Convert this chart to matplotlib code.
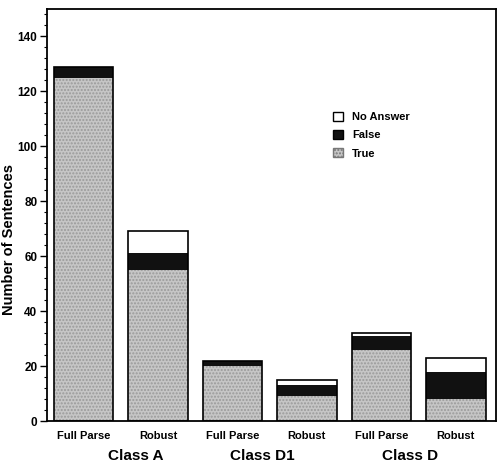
import matplotlib
matplotlib.use("Agg")
import matplotlib.pyplot as plt
import numpy as np
from matplotlib.patches import Patch
from matplotlib.ticker import MultipleLocator

plt.rcParams['font.family'] = ['Liberation Sans', 'DejaVu Sans']
plt.rcParams['font.weight'] = 'bold'

methods = ["Full Parse", "Robust", "Full Parse", "Robust", "Full Parse", "Robust"]
classes = ["Class A", "Class D1", "Class D"]
true_vals = [125, 55, 20, 9, 26, 8]
false_vals = [4, 6, 2, 4, 5, 10]
none_vals = [0, 8, 0, 2, 1, 5]

fig = plt.figure(figsize=(5.0, 4.66), dpi=100)
ax = fig.add_axes([47/500, 1-421/466, 449/500, 412/466])

x = np.arange(len(methods))
w = 0.80
t = np.array(true_vals)
f = np.array(false_vals)
n = np.array(none_vals)
ax.bar(x, t, w, color='#c6c6c6', linewidth=0, hatch='.....', edgecolor='#9a9a9a')
ax.bar(x, f, w, bottom=t, color='#111111', linewidth=0)
ax.bar(x, n, w, bottom=t + f, color='white', linewidth=0)
ax.bar(x, t + f + n, w, fill=False, edgecolor='black', linewidth=1.2)

ax.set_xlim(-0.49, 5.54)
ax.set_ylim(0, 150)
ax.set_yticks([0, 20, 40, 60, 80, 100, 120, 140])
ax.yaxis.set_minor_locator(MultipleLocator(4))
ax.tick_params(axis='y', which='major', length=5, width=1, labelsize=8.5, direction='out', pad=2)
ax.tick_params(axis='y', which='minor', length=2.5, width=0.8, direction='out')
ax.set_xticks(x)
ax.set_xticklabels(methods, fontsize=8, fontweight='bold')
ax.tick_params(axis='x', length=0, pad=7)
for lab in ax.get_yticklabels():
    lab.set_fontweight('bold')
for s in ax.spines.values():
    s.set_linewidth(1.3)

ax.set_ylabel("Number of Sentences", fontsize=10.5, fontweight='bold')
ax.yaxis.set_label_coords(-0.068, 0.44)

class_pos = [0.70, 2.40, 4.38]
for cx, cl in zip(class_pos, classes):
    ax.text(cx, -0.085, cl, transform=ax.get_xaxis_transform(), ha='center', va='center',
            fontsize=11, fontweight='bold')

handles = [Patch(facecolor='white', edgecolor='black', label='No Answer'),
           Patch(facecolor='#111111', edgecolor='black', label='False'),
           Patch(facecolor='#c6c6c6', edgecolor='#777777', hatch='.....', label='True')]
ax.legend(handles=handles, loc='upper left', bbox_to_anchor=(0.615, 0.775), frameon=False,
          handlelength=0.9, handleheight=0.9, handletextpad=0.8, labelspacing=0.7,
          prop={'size': 8, 'weight': 'bold'})

fig.savefig("out.png", dpi=100)
